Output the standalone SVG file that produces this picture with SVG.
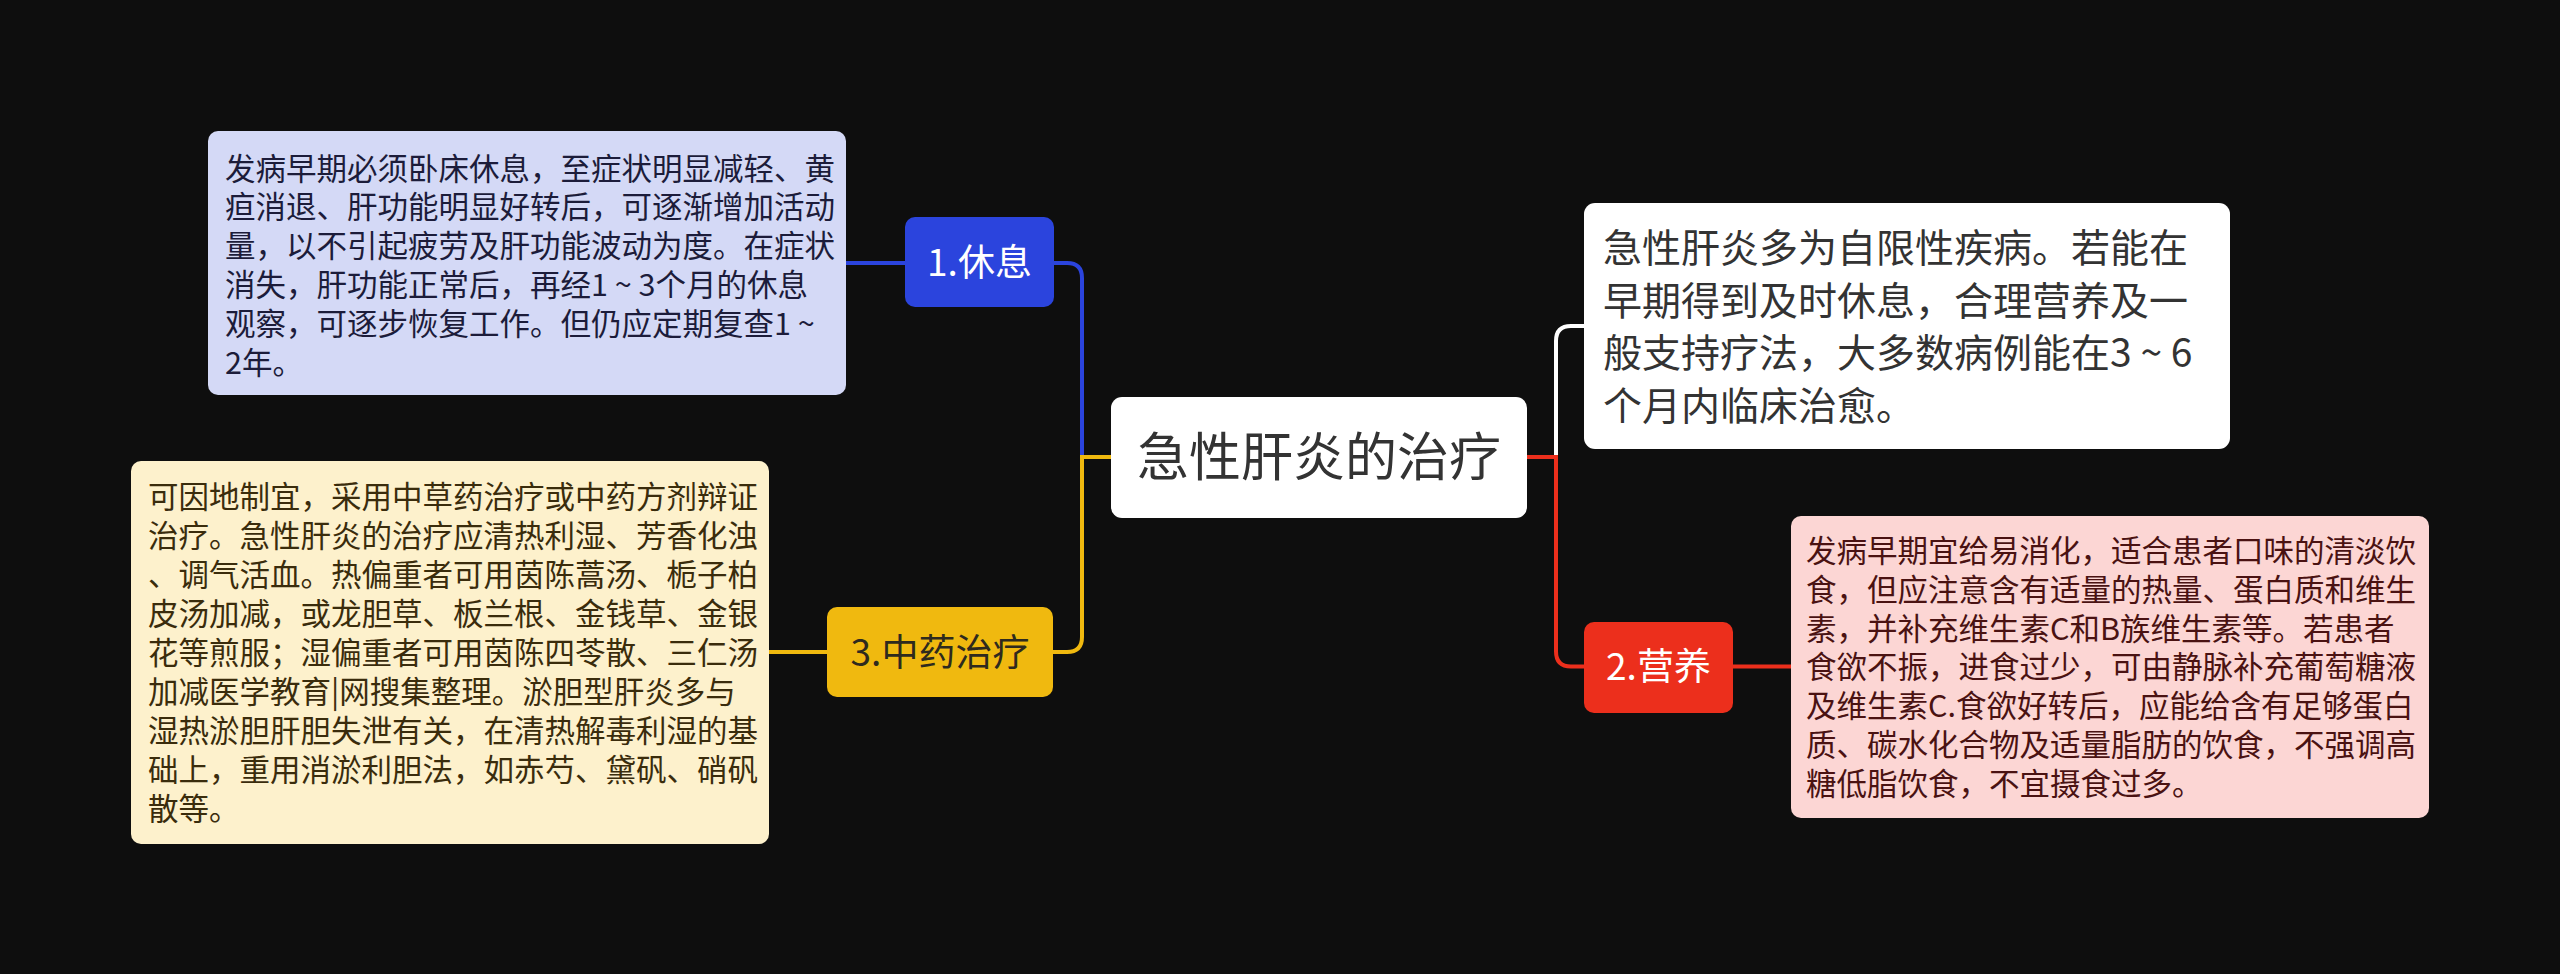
<svg xmlns="http://www.w3.org/2000/svg" width="2560" height="974" viewBox="0 0 2560 974">
<style>
text{font-family:"Noto Sans CJK SC","Noto Sans",sans-serif;}
.box{font-size:30.5px;}
.sub{font-size:37px;text-anchor:middle;}
.ln{fill:none;stroke-width:4;}
</style>
<rect x="0" y="0" width="2560" height="974" fill="#0e0e0e"/>
<g id="connectors">
<path class="ln" stroke="#ffffff" d="M1556 457 V341 Q1556 326 1571 326 H1585"/>
<path class="ln" stroke="#ec2f1c" d="M1527 457 H1556 V651.5 Q1556 666.5 1571 666.5 H1585"/>
<path class="ln" stroke="#ec2f1c" d="M1733 666.5 H1791"/>
<path class="ln" stroke="#2b44dd" d="M1054 263 H1067 Q1082 263 1082 278 V457"/>
<path class="ln" stroke="#2b44dd" d="M846 263 H905"/>
<path class="ln" stroke="#f0b90f" d="M1111 457 H1082 V637 Q1082 652 1067 652 H1053"/>
<path class="ln" stroke="#f0b90f" d="M827 652 H768"/>
</g>
<g id="root">
<rect x="1111" y="397" width="416" height="121" rx="11" fill="#ffffff"/>
<text x="1319" y="476" font-size="52" text-anchor="middle" fill="#333333">急性肝炎的治疗</text>
</g>
<g id="summary">
<rect x="1584" y="203" width="646" height="246" rx="11" fill="#ffffff"/>
<text font-size="39" fill="#333333">
<tspan x="1603" y="262">急性肝炎多为自限性疾病。若能在</tspan>
<tspan x="1603" y="314.5">早期得到及时休息，合理营养及一</tspan>
<tspan x="1603" y="367">般支持疗法，大多数病例能在3 ~ 6</tspan>
<tspan x="1603" y="419.5">个月内临床治愈。</tspan>
</text>
</g>
<g id="n1">
<rect x="905" y="217" width="149" height="90" rx="10" fill="#2b44dd"/>
<text class="sub" x="979.5" y="276" fill="#ffffff">1.休息</text>
</g>
<g id="n1-detail">
<rect x="208" y="131" width="638" height="264" rx="10" fill="#d4d9f6"/>
<text class="box" fill="#1c1c3a">
<tspan x="225" y="179.5">发病早期必须卧床休息，至症状明显减轻、黄</tspan>
<tspan x="225" y="218.3">疸消退、肝功能明显好转后，可逐渐增加活动</tspan>
<tspan x="225" y="257.1">量，以不引起疲劳及肝功能波动为度。在症状</tspan>
<tspan x="225" y="295.9">消失，肝功能正常后，再经1 ~ 3个月的休息</tspan>
<tspan x="225" y="334.7">观察，可逐步恢复工作。但仍应定期复查1 ~</tspan>
<tspan x="225" y="373.5">2年。</tspan>
</text>
</g>
<g id="n2">
<rect x="1584" y="622" width="149" height="91" rx="10" fill="#ec2f1c"/>
<text class="sub" x="1658.5" y="680" fill="#ffffff">2.营养</text>
</g>
<g id="n2-detail">
<rect x="1791" y="516" width="638" height="302" rx="10" fill="#fcd6d4"/>
<text class="box" fill="#4a1212">
<tspan x="1806" y="562">发病早期宜给易消化，适合患者口味的清淡饮</tspan>
<tspan x="1806" y="600.8">食，但应注意含有适量的热量、蛋白质和维生</tspan>
<tspan x="1806" y="639.6">素，并补充维生素C和B族维生素等。若患者</tspan>
<tspan x="1806" y="678.4">食欲不振，进食过少，可由静脉补充葡萄糖液</tspan>
<tspan x="1806" y="717.2">及维生素C.食欲好转后，应能给含有足够蛋白</tspan>
<tspan x="1806" y="756">质、碳水化合物及适量脂肪的饮食，不强调高</tspan>
<tspan x="1806" y="794.8">糖低脂饮食，不宜摄食过多。</tspan>
</text>
</g>
<g id="n3">
<rect x="827" y="607" width="226" height="90" rx="10" fill="#f0b90f"/>
<text class="sub" x="940" y="665.5" fill="#2e2a1e">3.中药治疗</text>
</g>
<g id="n3-detail">
<rect x="131" y="461" width="638" height="383" rx="10" fill="#fdf1cc"/>
<text class="box" fill="#3a2c0c">
<tspan x="148" y="508">可因地制宜，采用中草药治疗或中药方剂辩证</tspan>
<tspan x="148" y="547">治疗。急性肝炎的治疗应清热利湿、芳香化浊</tspan>
<tspan x="148" y="586">、调气活血。热偏重者可用茵陈蒿汤、栀子柏</tspan>
<tspan x="148" y="625">皮汤加减，或龙胆草、板兰根、金钱草、金银</tspan>
<tspan x="148" y="664">花等煎服；湿偏重者可用茵陈四苓散、三仁汤</tspan>
<tspan x="148" y="703">加减医学教育|网搜集整理。淤胆型肝炎多与</tspan>
<tspan x="148" y="742">湿热淤胆肝胆失泄有关，在清热解毒利湿的基</tspan>
<tspan x="148" y="781">础上，重用消淤利胆法，如赤芍、黛矾、硝矾</tspan>
<tspan x="148" y="820">散等。</tspan>
</text>
</g>
</svg>
